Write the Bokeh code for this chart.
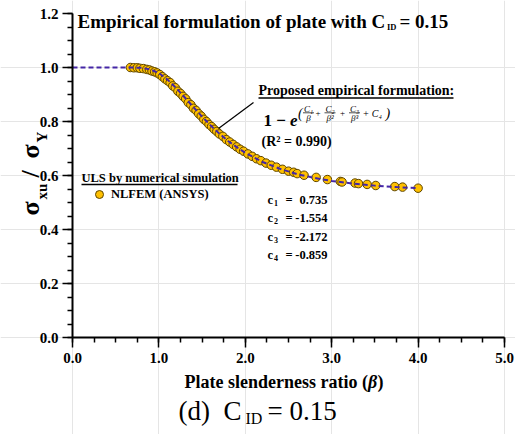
import numpy as np
from bokeh.plotting import figure
from bokeh.models import (Label, FixedTicker, PrintfTickFormatter, Legend, LegendItem,
                          ColumnDataSource, LinearAxis, Range1d)
from bokeh.embed import file_html
from bokeh.resources import INLINE

# ---------------- data ----------------
beta = [0.67, 0.71, 0.75, 0.78, 0.82, 0.86, 0.89, 0.92, 0.95, 0.98, 1.01, 1.04, 1.07, 1.10,
        1.13, 1.16, 1.19, 1.22, 1.25, 1.28, 1.31, 1.34, 1.37, 1.40, 1.43, 1.46, 1.49, 1.52,
        1.55, 1.58, 1.61, 1.64, 1.67, 1.70, 1.74, 1.78, 1.82, 1.86, 1.90, 1.94, 1.98, 2.03,
        2.08, 2.13, 2.18, 2.24, 2.30, 2.36, 2.43, 2.50, 2.56, 2.60, 2.68, 2.82, 2.95, 3.10,
        3.12, 3.27, 3.31, 3.41, 3.51, 3.73, 3.82, 4.00]
sigma = [1.000, 0.999, 0.999, 0.997, 0.996, 0.993, 0.991, 0.987, 0.984, 0.980, 0.974, 0.966,
         0.958, 0.951, 0.944, 0.932, 0.925, 0.912, 0.904, 0.893, 0.884, 0.870, 0.862, 0.849,
         0.841, 0.829, 0.820, 0.808, 0.800, 0.789, 0.781, 0.771, 0.763, 0.754, 0.745, 0.733,
         0.724, 0.715, 0.706, 0.697, 0.690, 0.680, 0.671, 0.662, 0.655, 0.646, 0.638, 0.631,
         0.623, 0.616, 0.612, 0.607, 0.601, 0.593, 0.585, 0.578, 0.576, 0.572, 0.570, 0.567,
         0.563, 0.559, 0.557, 0.553]

fit_beta = [0.0, 0.5, 0.6, 0.7, 0.8, 0.9, 1.0, 1.1, 1.2, 1.3, 1.4, 1.5, 1.6, 1.7, 1.8, 1.9,
            2.0, 2.2, 2.4, 2.6, 2.8, 3.0, 3.25, 3.5, 3.75, 4.0]
fit_sigma = [1.0, 1.0, 1.0, 0.9999, 0.9987, 0.9929, 0.979, 0.955, 0.924, 0.889, 0.853, 0.818,
             0.785, 0.755, 0.728, 0.705, 0.684, 0.650, 0.625, 0.605, 0.591, 0.580, 0.570,
             0.5625, 0.557, 0.553]

x_ticks = [0, 1, 2, 3, 4, 5]
x_tick_labels = ["0.0", "1.0", "2.0", "3.0", "4.0", "5.0"]
y_ticks = [0.0, 0.2, 0.4, 0.6, 0.8, 1.0, 1.2]

coef_names = ["1", "2", "3", "4"]
coef_values = ["0.735", "-1.554", "-2.172", "-0.859"]

FONT = "Liberation Serif"
W, H = 515, 434
FL, FT, FR, FB = 72, 13, 504, 337  # plotting area (axes box) in pixels
XMAX, YMAX = 5.0, 1.2
PX = (FR - FL) / XMAX   # pixels per unit beta
PY = (FB - FT) / YMAX   # pixels per unit sigma


def dx(px):
    return (px - FL) / PX


def dy(py):
    return (FB - py) / PY


# the frame fills the whole canvas; axes are pinned at the origin
p = figure(width=W, height=H,
           x_range=Range1d(dx(0), dx(W)), y_range=Range1d(dy(H), dy(0)),
           x_axis_location=None, y_axis_location=None,
           output_backend="svg", toolbar_location=None,
           min_border_left=0, min_border_right=0, min_border_top=0, min_border_bottom=0)
p.outline_line_color = None
p.background_fill_color = "white"
p.border_fill_color = "white"

xaxis = LinearAxis(fixed_location=0, bounds=(0, XMAX),
                   ticker=FixedTicker(ticks=x_ticks,
                                      minor_ticks=list(np.arange(0, 5.001, 0.25))),
                   major_label_overrides={t: l for t, l in zip(x_ticks, x_tick_labels)})
yaxis = LinearAxis(fixed_location=0, bounds=(0, YMAX),
                   ticker=FixedTicker(ticks=y_ticks,
                                      minor_ticks=list(np.arange(0, 1.2001, 0.05))),
                   formatter=PrintfTickFormatter(format="%.1f"))
for ax in (xaxis, yaxis):
    ax.axis_line_width = 2
    ax.axis_line_color = "black"
    ax.major_tick_line_width = 1.5
    ax.minor_tick_line_width = 1.5
    ax.major_tick_line_color = "black"
    ax.minor_tick_line_color = "black"
    ax.major_tick_in = 0
    ax.minor_tick_in = 0
    ax.major_tick_out = 10
    ax.minor_tick_out = 5
    ax.major_label_text_font = FONT
    ax.major_label_text_font_size = "15px"
    ax.major_label_text_font_style = "bold"
    ax.major_label_text_color = "black"
yaxis.major_label_standoff = 4
xaxis.major_label_standoff = 5
p.add_layout(xaxis, "below")
p.add_layout(yaxis, "left")

# data
src = ColumnDataSource(dict(beta=beta, sigma=sigma))
pts = p.scatter("beta", "sigma", source=src, size=8.5, fill_color="#FFC000",
                line_color="#5e4500", line_width=1)
p.line(fit_beta, fit_sigma, line_color="#4426A6", line_width=2, line_dash="5 3")

legend = Legend(items=[LegendItem(label="NLFEM (ANSYS)", renderers=[pts])],
                location=(89, H - 204), glyph_width=20, glyph_height=20,
                label_height=20, label_standoff=2, padding=0, margin=0,
                border_line_color=None, background_fill_alpha=0,
                label_text_font=FONT, label_text_font_size="12.5px",
                label_text_font_style="bold", label_text_color="black")
p.add_layout(legend)


def lab(px, py, text, size, style="bold", align="left", angle=0):
    """Text centred vertically on pixel row py (top-left pixel coordinates)."""
    p.add_layout(Label(x=dx(px), y=dy(py), text=text, text_font=FONT,
                       text_font_size=f"{size}px", text_font_style=style,
                       text_align=align, text_baseline="middle", angle=angle,
                       text_color="black"))


def seg(px0, py0, px1, py1, w=1.0):
    p.segment(x0=[dx(px0)], y0=[dy(py0)], x1=[dx(px1)], y1=[dy(py1)],
              line_color="black", line_width=w)


# title
lab(77, 20.5, "Empirical formulation of plate with C", 19)
lab(386.5, 26, "ID", 8.5)
lab(399, 20.5, "= 0.15", 19)

# formula block
lab(258, 90, "Proposed empirical formulation:", 14)
seg(258, 97.5, 453, 97.5, 1.5)
lab(263, 119.5, "1 \u2212 ", 17)
lab(289.5, 119.5, "e", 17, style="bold italic")
lab(297.5, 112.5, "(", 14, style="italic")
frac_x = [308, 329.5, 354]
frac_den = ["\u03b2", "\u03b2\u00b2", "\u03b2\u00b3"]
for cx, num, den in zip(frac_x, ["C\u2081", "C\u2082", "C\u2083"], frac_den):
    lab(cx, 108, num, 9, style="italic", align="center")
    seg(cx - 5.5, 112.3, cx + 5.5, 112.3, 0.7)
    lab(cx, 117, den, 9, style="italic", align="center")
lab(317.5, 112.3, "+", 9, style="normal", align="center")
lab(342, 112.3, "+", 9, style="normal", align="center")
lab(362, 112.5, "+ C\u2084", 10, style="italic")
lab(385, 112.5, ")", 14, style="italic")
lab(261, 141, "(R\u00b2 = 0.990)", 14)

# pointer line
seg(218, 128, 253, 102, 1.2)

# legend heading
lab(81, 177.5, "ULS by numerical simulation", 12.5)
seg(81, 184, 237, 184, 1.5)

# coefficients
for i, (nm, val) in enumerate(zip(coef_names, coef_values)):
    cy = 199 + i * 18.6
    lab(267, cy, "c", 12.5)
    lab(273.5, cy + 3, nm, 8)
    lab(285, cy, "=", 12.5)
    lab(327, cy, val, 12.5, align="right")

# x-axis label
lab(184, 381, "Plate slenderness ratio (", 18)
lab(367.5, 381, "\u03b2", 18, style="bold italic")
lab(377, 381, ")", 18)

# y-axis label (rotated)
ang = np.pi / 2
lab(30, 215, "\u03c3", 26, angle=ang)
lab(41, 199, "xu", 15, angle=ang)
lab(30, 177, "/", 26, angle=ang)
lab(30, 158, "\u03c3", 26, angle=ang)
lab(41, 142, "Y", 15, angle=ang)

# caption
lab(178, 410, "(d)", 27, style="normal")
lab(223, 410, "C", 27, style="normal")
lab(245, 418, "ID", 16, style="normal")
lab(267, 410, "= 0.15", 27, style="normal")

open("out.html", "w").write(file_html(p, INLINE))
